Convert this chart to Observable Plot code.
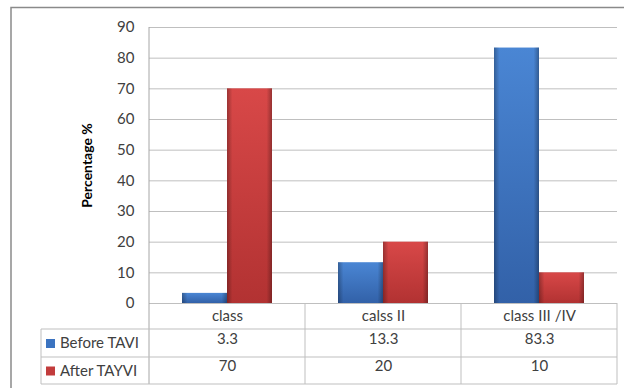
<!DOCTYPE html>
<html>
<head>
<meta charset="utf-8">
<script src="https://cdn.jsdelivr.net/npm/d3@7"></script>
<script src="https://cdn.jsdelivr.net/npm/@observablehq/plot@0.6"></script>
<style>
  body { margin: 0; background: #fff; }
  #chart svg { font-family: Lato, "Open Sans", sans-serif; }
  #chart g[aria-label="y-axis label"] text { font-weight: bold; fill: #000; font-size: 14px; }
</style>
</head>
<body>
<div id="chart"></div>
<script>
// NYHA class distribution before and after the procedure (percent of patients)
const categories = ["class", "calss II", "class III /IV"];
const series = ["Before TAVI", "After TAYVI"];
const beforeTAVI = [3.3, 13.3, 83.3];
const afterTAVI = [70, 20, 10];
const yTicks = [0, 10, 20, 30, 40, 50, 60, 70, 80, 90];

const values = [beforeTAVI, afterTAVI];
const rows = categories.flatMap((cls, i) =>
  series.map((s, j) => ({cls, series: s, value: values[j][i]}))
);

const W = 624, H = 388;
const M = {top: 27, right: 7, bottom: 85, left: 148};
const textColor = "#404040";
const lineColor = "#bfbfbf";

const plot = Plot.plot({
  width: W,
  height: H,
  marginTop: M.top,
  marginRight: M.right,
  marginBottom: M.bottom,
  marginLeft: M.left,
  style: {fontFamily: "Lato, 'Open Sans', sans-serif", fontSize: "15px", color: textColor, background: "transparent", overflow: "visible"},
  fx: {domain: categories, padding: 0, label: null},
  x: {domain: series, paddingInner: 0, paddingOuter: 0.733, axis: null},
  y: {domain: [0, 90]},
  color: {domain: series, range: ["url(#fillBefore)", "url(#fillAfter)"]},
  marks: [
    Plot.gridY(yTicks, {stroke: lineColor, strokeOpacity: 1}),
    Plot.axisY(yTicks, {tickSize: 0, tickPadding: 15, label: "Percentage %", labelArrow: "none", labelAnchor: "center", labelOffset: 67, fill: textColor}),
    Plot.axisFx({anchor: "bottom", tickSize: 0, tickPadding: 7, label: null, fill: textColor}),
    Plot.barY(rows, {fx: "cls", x: "series", y: "value", fill: "series"}),
    Plot.barY(rows, {fx: "cls", x: "series", y: "value", fill: "url(#edgeShade)"}),
    // data table rows beneath the category labels
    Plot.text(rows.filter(d => d.series === series[0]), {fx: "cls", text: d => String(d.value), frameAnchor: "bottom", dy: 40, fill: textColor}),
    Plot.text(rows.filter(d => d.series === series[1]), {fx: "cls", text: d => String(d.value), frameAnchor: "bottom", dy: 67.5, fill: textColor})
  ]
});

const svg = d3.select(plot);
const defs = svg.insert("defs", ":first-child");
function vGrad(id, stops) {
  const g = defs.append("linearGradient").attr("id", id).attr("x1", 0).attr("y1", 0).attr("x2", 0).attr("y2", 1);
  stops.forEach(([o, c]) => g.append("stop").attr("offset", o).attr("stop-color", c));
}
vGrad("fillBefore", [[0, "#4a86d4"], [1, "#3261a8"]]);
vGrad("fillAfter", [[0, "#d84848"], [1, "#b23232"]]);
const edge = defs.append("linearGradient").attr("id", "edgeShade").attr("x1", 0).attr("y1", 0).attr("x2", 1).attr("y2", 0);
[[0, 0.28], [0.12, 0], [0.88, 0], [1, 0.3]].forEach(([o, a]) =>
  edge.append("stop").attr("offset", o).attr("stop-color", "#000").attr("stop-opacity", a));

// table grid and legend column
const fx = plot.scale("fx");
const y = plot.scale("y");
const x0 = fx.apply(categories[0]);
const xEnd = fx.apply(categories[categories.length - 1]) + fx.bandwidth;
const yBase = y.apply(0), yTop = y.apply(90);
const rowY = [yBase, yBase + 26, yBase + 54, yBase + 81];
const legendLeft = 41;
const colors = ["#3b73c0", "#c23c3c"];

const g = svg.append("g").attr("stroke", lineColor).attr("fill", "none");
g.append("line").attr("x1", x0).attr("x2", x0).attr("y1", yTop).attr("y2", rowY[3]).attr("stroke", "#a6a6a6");
categories.forEach(c => {
  const xr = fx.apply(c) + fx.bandwidth;
  g.append("line").attr("x1", xr).attr("x2", xr).attr("y1", yBase).attr("y2", rowY[3]);
});
[1, 2, 3].forEach(i => g.append("line").attr("x1", legendLeft).attr("x2", xEnd).attr("y1", rowY[i]).attr("y2", rowY[i]));
g.append("line").attr("x1", legendLeft).attr("x2", legendLeft).attr("y1", rowY[1]).attr("y2", rowY[3]);

series.forEach((s, i) => {
  const cy = (rowY[i + 1] + rowY[i + 2]) / 2;
  svg.append("rect").attr("x", 46).attr("y", cy - 4).attr("width", 9).attr("height", 9).attr("fill", colors[i]);
  svg.append("text").attr("x", 60).attr("y", cy).attr("dy", "0.35em").attr("text-anchor", "start")
    .attr("fill", textColor).attr("font-size", 15).text(s);
});

// outer chart border
svg.append("rect").attr("x", 11).attr("y", 7.5).attr("width", 700).attr("height", 500)
  .attr("fill", "none").attr("stroke", "#8a8a8a").attr("stroke-width", 1.5);

document.getElementById("chart").appendChild(plot);
</script>
</body>
</html>
